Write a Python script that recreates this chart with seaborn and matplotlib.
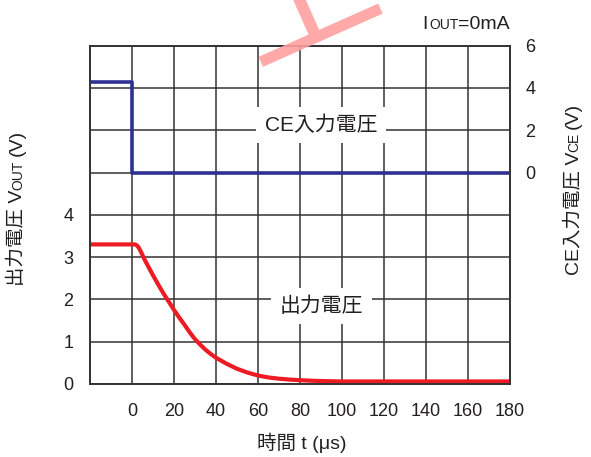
import numpy as np
import pandas as pd
import matplotlib
matplotlib.use('Agg')
import matplotlib.pyplot as plt
import seaborn as sns
from matplotlib.transforms import IdentityTransform

# time axis (us)
t_ticks = [-20, 0, 20, 40, 60, 80, 100, 120, 140, 160, 180]
t_tick_labels = ['', '0', '20', '40', '60', '80', '100', '120', '140', '160', '180']

# output voltage VOUT (V)
t_out = [-20, 0, 1.5, 2.5, 3.5, 4.5, 5.7, 7.5, 10, 12.5, 15, 16.8, 18.5, 20, 22.5, 25,
         27.5, 30, 32.5, 35, 37.5, 40, 45, 50, 55, 60, 65, 70, 75, 80, 85, 90, 100, 180]
v_out = [3.3, 3.3, 3.3, 3.27, 3.2, 3.1, 2.97, 2.8, 2.57, 2.35, 2.14, 2.0, 1.87, 1.75,
         1.57, 1.4, 1.22, 1.06, 0.93, 0.81, 0.71, 0.62, 0.48, 0.36, 0.27, 0.2, 0.155,
         0.125, 0.105, 0.09, 0.078, 0.07, 0.06, 0.06]

# CE input voltage VCE (V), step at t = 0
t_ce = [-20, 0, 180]
v_ce = [4.3, 0, 0]

left_ticks = [0, 1, 2, 3, 4]
right_ticks = [0, 2, 4, 6]

sns.set_style('white')
plt.rcParams['font.family'] = ['Liberation Sans', 'Noto Sans CJK JP', 'DejaVu Sans']
txt_color = '#231f20'
grid_color = '#333333'
red = '#ed1c24'
blue = '#2e3192'

W, H = 591, 457
fig = plt.figure(figsize=(W / 100, H / 100), dpi=100)
ax = fig.add_axes([90 / W, (H - 384) / H, 420 / W, 338.4 / H])
ax2 = ax.twinx()

df_out = pd.DataFrame({'t': t_out, 'v': v_out})
df_ce = pd.DataFrame({'t': t_ce, 'v': v_ce})

sns.lineplot(data=df_out, x='t', y='v', ax=ax, color=red, linewidth=3.0,
             estimator=None, sort=False, solid_joinstyle='round')
sns.lineplot(data=df_ce, x='t', y='v', ax=ax2, color=blue, linewidth=2.6,
             estimator=None, sort=False, drawstyle='steps-post')

ax.set_xlim(-20, 180)
ax.set_ylim(0, 8)
ax2.set_ylim(-10, 6)

ax.set_xticks(t_ticks)
ax.set_xticklabels(t_tick_labels)
ax.set_yticks(range(0, 9))
ax.set_yticklabels([str(v) if v in left_ticks else '' for v in range(0, 9)])
ax2.set_yticks(right_ticks)
ax.grid(True, color=grid_color, linewidth=1.1)
ax2.grid(False)

ax.tick_params(axis='x', length=0, pad=14, labelsize=13, labelcolor=txt_color)
ax.tick_params(axis='y', length=0, pad=12, labelsize=13, labelcolor=txt_color)
ax2.tick_params(axis='y', length=0, pad=11, labelsize=13, labelcolor=txt_color)
ax.set_xlabel('')
ax.set_ylabel('')
ax2.set_ylabel('')
for a in (ax, ax2):
    for s in a.spines.values():
        s.set_color(grid_color)
        s.set_linewidth(1.2)

box = dict(boxstyle='square,pad=0.4', facecolor='white', edgecolor='none')
ax.text(90, 6.12, 'CE入力電圧', fontsize=15, color=txt_color, ha='center', va='center',
        bbox=box, zorder=3)
ax.text(90.2, 1.84, '出力電圧', fontsize=15, color=txt_color, ha='center', va='center',
        bbox=box, zorder=3)

fig.text(302 / W, 1 - 443 / H, '時間 t (μs)', fontsize=14, color=txt_color,
         ha='center', va='center')

renderer = fig.canvas.get_renderer()


def put_pieces(pieces, x, y, rotation=0, ha='center'):
    '''
    Write a label made of pieces of different size on one baseline (pixels).
    '''
    widths = []
    for s, size, gap in pieces:
        tmp = fig.text(0, 0, s, fontsize=size)
        widths.append(tmp.get_window_extent(renderer).width + gap)
        tmp.remove()
    total = sum(widths)
    pos = {'center': -total / 2, 'right': -total, 'left': 0}[ha]
    for (s, size, gap), w in zip(pieces, widths):
        pos += gap
        xy = (x, y + pos) if rotation == 90 else (x + pos, y)
        fig.text(xy[0], xy[1], s, fontsize=size, color=txt_color, rotation=rotation,
                 rotation_mode='anchor', ha='left', va='baseline',
                 transform=IdentityTransform())
        pos += w - gap


put_pieces([('出力電圧 V', 14, 0), ('OUT', 10, 0), ('(V)', 14, 4)], 22, H - 208, rotation=90)
put_pieces([('CE入力電圧 V', 14, 0), ('CE', 10, 0), ('(V)', 14, 4)], 578, H - 189, rotation=90)
put_pieces([('I', 14, 0), ('OUT', 10, 1), ('=0mA', 14, 0)], 510, H - 29, ha='right')

# faint red stamp cut off at the top edge (as in the source)
fig.text(305 / W, 1 + 2 / H, '上', fontsize=105, color='#ff9f9f', rotation=24,
         ha='center', va='center', alpha=0.9, zorder=5)

fig.savefig('out.png', dpi=100)
